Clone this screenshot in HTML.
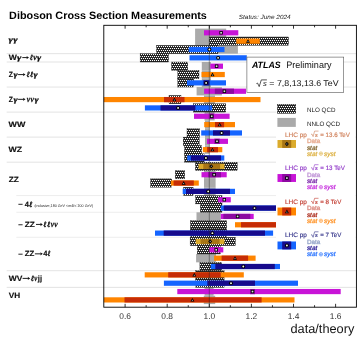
<!DOCTYPE html>
<html><head><meta charset="utf-8"><title>Diboson Cross Section Measurements</title>
<style>html,body{margin:0;padding:0;background:#fff;}svg{display:block;text-rendering:geometricPrecision;will-change:transform;}text{font-family:"Liberation Sans",sans-serif;}</style>
</head><body>
<svg width="357" height="338" viewBox="0 0 357 338">
<defs>
<pattern id="hx" patternUnits="userSpaceOnUse" x="0" y="0" width="2" height="4"><rect width="2" height="4" fill="#000"/><g fill="#fff"><circle cx="0.5" cy="0.5" r="0.66"/><circle cx="2.5" cy="0.5" r="0.66"/><circle cx="-1.5" cy="0.5" r="0.66"/><circle cx="1.5" cy="2.5" r="0.66"/><circle cx="-0.5" cy="2.5" r="0.66"/><circle cx="3.5" cy="2.5" r="0.66"/><circle cx="0.5" cy="4.5" r="0.66"/><circle cx="0.5" cy="-3.5" r="0.66"/></g></pattern>
<clipPath id="cp"><rect x="103.8" y="25.3" width="252.59999999999997" height="281.9"/></clipPath>
</defs>
<rect width="357" height="338" fill="#fff"/>
<g>
<line x1="6.7" x2="356.4" y1="53.67" y2="53.67" stroke="#dcdcdc" stroke-width="0.8"/>
<line x1="6.7" x2="356.4" y1="62.01" y2="62.01" stroke="#dcdcdc" stroke-width="0.8"/>
<line x1="6.7" x2="356.4" y1="87.06" y2="87.06" stroke="#dcdcdc" stroke-width="0.8"/>
<line x1="6.7" x2="356.4" y1="112.10" y2="112.10" stroke="#dcdcdc" stroke-width="0.8"/>
<line x1="6.7" x2="356.4" y1="137.14" y2="137.14" stroke="#dcdcdc" stroke-width="0.8"/>
<line x1="6.7" x2="356.4" y1="162.18" y2="162.18" stroke="#dcdcdc" stroke-width="0.8"/>
<line x1="6.7" x2="356.4" y1="270.69" y2="270.69" stroke="#dcdcdc" stroke-width="0.8"/>
<line x1="6.7" x2="356.4" y1="287.38" y2="287.38" stroke="#dcdcdc" stroke-width="0.8"/>
<line x1="16.3" x2="356.4" y1="195.57" y2="195.57" stroke="#e8e8e8" stroke-width="0.8"/>
<line x1="16.3" x2="356.4" y1="212.26" y2="212.26" stroke="#e8e8e8" stroke-width="0.8"/>
<line x1="16.3" x2="356.4" y1="237.30" y2="237.30" stroke="#e8e8e8" stroke-width="0.8"/>
<g clip-path="url(#cp)">
<rect x="195.1" y="28.63" width="31.10" height="8.35" fill="#aaaaaa"/>
<rect x="195.1" y="36.97" width="31.10" height="8.35" fill="#aaaaaa"/>
<rect x="197.1" y="45.32" width="40.80" height="8.35" fill="#aaaaaa"/>
<rect x="201.8" y="62.01" width="9.20" height="8.35" fill="#aaaaaa"/>
<rect x="201.8" y="70.36" width="9.20" height="8.35" fill="#aaaaaa"/>
<rect x="201.8" y="78.71" width="9.20" height="8.35" fill="#aaaaaa"/>
<rect x="196.6" y="87.06" width="25.30" height="8.35" fill="#aaaaaa"/>
<rect x="204" y="95.40" width="11.00" height="8.35" fill="#aaaaaa"/>
<rect x="204.5" y="112.10" width="10.10" height="8.35" fill="#aaaaaa"/>
<rect x="205" y="120.44" width="4.60" height="8.35" fill="#aaaaaa"/>
<rect x="205" y="128.79" width="4.60" height="8.35" fill="#aaaaaa"/>
<rect x="205" y="137.14" width="4.60" height="8.35" fill="#aaaaaa"/>
<rect x="205" y="145.48" width="4.60" height="8.35" fill="#aaaaaa"/>
<rect x="204" y="170.53" width="11.60" height="8.35" fill="#aaaaaa"/>
<rect x="204" y="178.87" width="11.60" height="8.35" fill="#aaaaaa"/>
<rect x="204" y="187.22" width="11.60" height="8.35" fill="#aaaaaa"/>
<rect x="196.5" y="212.26" width="24.30" height="8.35" fill="#aaaaaa"/>
<rect x="196.1" y="254.00" width="19.90" height="8.35" fill="#aaaaaa"/>
<rect x="204.6" y="287.38" width="9.00" height="8.35" fill="#aaaaaa"/>
<rect x="203.8" y="295.73" width="11.40" height="8.35" fill="#aaaaaa"/>
<rect x="209.4" y="36.97" width="79.10" height="8.35" fill="url(#hx)" stroke="#000" stroke-width="0.3"/>
<rect x="156.5" y="45.32" width="61.50" height="8.35" fill="url(#hx)" stroke="#000" stroke-width="0.3"/>
<rect x="140.1" y="53.67" width="28.40" height="8.35" fill="url(#hx)" stroke="#000" stroke-width="0.3"/>
<rect x="171.5" y="62.01" width="16.20" height="8.35" fill="url(#hx)" stroke="#000" stroke-width="0.3"/>
<rect x="177.8" y="70.36" width="21.20" height="8.35" fill="url(#hx)" stroke="#000" stroke-width="0.3"/>
<rect x="177.8" y="78.71" width="15.90" height="8.35" fill="url(#hx)" stroke="#000" stroke-width="0.3"/>
<rect x="169" y="95.40" width="12.00" height="8.35" fill="url(#hx)" stroke="#000" stroke-width="0.3"/>
<rect x="193.4" y="103.75" width="32.40" height="8.35" fill="url(#hx)" stroke="#000" stroke-width="0.3"/>
<rect x="187.0" y="128.79" width="12.60" height="8.35" fill="url(#hx)" stroke="#000" stroke-width="0.3"/>
<rect x="183.2" y="137.14" width="16.10" height="8.35" fill="url(#hx)" stroke="#000" stroke-width="0.3"/>
<rect x="184.5" y="145.48" width="17.10" height="8.35" fill="url(#hx)" stroke="#000" stroke-width="0.3"/>
<rect x="184.5" y="153.83" width="19.60" height="8.35" fill="url(#hx)" stroke="#000" stroke-width="0.3"/>
<rect x="195.4" y="162.18" width="41.80" height="8.35" fill="url(#hx)" stroke="#000" stroke-width="0.3"/>
<rect x="175.3" y="170.53" width="9.40" height="8.35" fill="url(#hx)" stroke="#000" stroke-width="0.3"/>
<rect x="150.5" y="178.87" width="21.30" height="8.35" fill="url(#hx)" stroke="#000" stroke-width="0.3"/>
<rect x="183.7" y="187.22" width="9.40" height="8.35" fill="url(#hx)" stroke="#000" stroke-width="0.3"/>
<rect x="195.6" y="195.57" width="26.40" height="8.35" fill="url(#hx)" stroke="#000" stroke-width="0.3"/>
<rect x="200.3" y="203.91" width="21.70" height="8.35" fill="url(#hx)" stroke="#000" stroke-width="0.3"/>
<rect x="190.4" y="220.61" width="36.20" height="8.35" fill="url(#hx)" stroke="#000" stroke-width="0.3"/>
<rect x="190.4" y="228.95" width="36.20" height="8.35" fill="url(#hx)" stroke="#000" stroke-width="0.3"/>
<rect x="190.1" y="237.30" width="45.30" height="8.35" fill="url(#hx)" stroke="#000" stroke-width="0.3"/>
<rect x="197.3" y="245.65" width="23.00" height="8.35" fill="url(#hx)" stroke="#000" stroke-width="0.3"/>
<rect x="199.9" y="262.34" width="21.70" height="8.35" fill="url(#hx)" stroke="#000" stroke-width="0.3"/>
<rect x="195.8" y="270.69" width="28.30" height="8.35" fill="url(#hx)" stroke="#000" stroke-width="0.3"/>
<rect x="195.8" y="279.04" width="28.30" height="8.35" fill="url(#hx)" stroke="#000" stroke-width="0.3"/>
<rect x="204" y="30.20" width="34.30" height="5.2" fill="#c814d7"/>
<rect x="236.3" y="38.55" width="23.50" height="5.2" fill="#ff8500"/>
<rect x="188.7" y="46.89" width="35.80" height="5.2" fill="#1464ff"/>
<rect x="189.5" y="55.24" width="57.30" height="5.2" fill="#1464ff"/>
<rect x="210.3" y="63.59" width="12.70" height="5.2" fill="#c814d7"/>
<rect x="201.5" y="71.94" width="23.30" height="5.2" fill="#ff8500"/>
<rect x="187" y="80.28" width="39.00" height="5.2" fill="#1464ff"/>
<rect x="203.4" y="80.28" width="5.80" height="5.2" fill="#160a8c"/>
<rect x="204.1" y="88.63" width="41.90" height="5.2" fill="#c814d7"/>
<rect x="214.8" y="88.63" width="19.20" height="5.2" fill="#8c0aa0"/>
<rect x="95" y="96.98" width="165.50" height="5.2" fill="#ff8500"/>
<rect x="164" y="96.98" width="20.50" height="5.2" fill="#c62c06"/>
<rect x="144.9" y="105.32" width="67.30" height="5.2" fill="#1464ff"/>
<rect x="160.5" y="105.32" width="34.90" height="5.2" fill="#160a8c"/>
<rect x="194" y="113.67" width="35.60" height="5.2" fill="#c814d7"/>
<rect x="209.5" y="113.67" width="4.50" height="5.2" fill="#8c0aa0"/>
<rect x="204.2" y="122.02" width="30.80" height="5.2" fill="#ff8500"/>
<rect x="215" y="122.02" width="9.10" height="5.2" fill="#c62c06"/>
<rect x="201.2" y="130.36" width="40.80" height="5.2" fill="#1464ff"/>
<rect x="213" y="130.36" width="17.00" height="5.2" fill="#160a8c"/>
<rect x="207" y="138.71" width="21.00" height="5.2" fill="#c814d7"/>
<rect x="214.3" y="138.71" width="5.50" height="5.2" fill="#8c0aa0"/>
<rect x="202.9" y="147.06" width="19.40" height="5.2" fill="#ff8500"/>
<rect x="207.1" y="147.06" width="10.90" height="5.2" fill="#c62c06"/>
<rect x="187.2" y="155.41" width="37.10" height="5.2" fill="#1464ff"/>
<rect x="190.8" y="155.41" width="30.20" height="5.2" fill="#160a8c"/>
<rect x="198.5" y="163.75" width="26.00" height="5.2" fill="#dbab2c"/>
<rect x="203.3" y="163.75" width="16.80" height="5.2" fill="#a87616"/>
<rect x="201.5" y="172.10" width="25.20" height="5.2" fill="#c814d7"/>
<rect x="208.3" y="172.10" width="12.70" height="5.2" fill="#8c0aa0"/>
<rect x="170.9" y="180.45" width="27.90" height="5.2" fill="#ff8500"/>
<rect x="173.6" y="180.45" width="20.20" height="5.2" fill="#c62c06"/>
<rect x="182.7" y="188.79" width="52.30" height="5.2" fill="#1464ff"/>
<rect x="186" y="188.79" width="44.00" height="5.2" fill="#160a8c"/>
<rect x="218.1" y="197.14" width="12.70" height="5.2" fill="#c814d7"/>
<rect x="220.8" y="205.49" width="79.20" height="5.2" fill="#1464ff"/>
<rect x="223.7" y="205.49" width="76.30" height="5.2" fill="#160a8c"/>
<rect x="220.8" y="213.83" width="32.90" height="5.2" fill="#c814d7"/>
<rect x="223.4" y="213.83" width="26.90" height="5.2" fill="#8c0aa0"/>
<rect x="235" y="222.18" width="65.00" height="5.2" fill="#ff8500"/>
<rect x="241" y="222.18" width="59.00" height="5.2" fill="#c62c06"/>
<rect x="155" y="230.53" width="118.10" height="5.2" fill="#1464ff"/>
<rect x="163.7" y="230.53" width="101.30" height="5.2" fill="#160a8c"/>
<rect x="195.7" y="238.87" width="28.70" height="5.2" fill="#dbab2c"/>
<rect x="200.5" y="238.87" width="19.10" height="5.2" fill="#a87616"/>
<rect x="209.1" y="247.22" width="14.20" height="5.2" fill="#c814d7"/>
<rect x="214.1" y="255.57" width="41.50" height="5.2" fill="#ff8500"/>
<rect x="221.6" y="255.57" width="26.50" height="5.2" fill="#c62c06"/>
<rect x="210.8" y="263.92" width="69.20" height="5.2" fill="#1464ff"/>
<rect x="215.3" y="263.92" width="59.50" height="5.2" fill="#160a8c"/>
<rect x="144.7" y="272.26" width="99.10" height="5.2" fill="#ff8500"/>
<rect x="168.2" y="272.26" width="52.50" height="5.2" fill="#c62c06"/>
<rect x="163.9" y="280.61" width="134.10" height="5.2" fill="#1464ff"/>
<rect x="207.3" y="280.61" width="47.70" height="5.2" fill="#160a8c"/>
<rect x="177.3" y="288.96" width="163.40" height="5.2" fill="#c814d7"/>
<rect x="250" y="288.96" width="5.00" height="5.2" fill="#8c0aa0"/>
<rect x="95" y="297.30" width="199.50" height="5.2" fill="#ff8500"/>
<rect x="124.5" y="297.30" width="137.10" height="5.2" fill="#c62c06"/>
<line x1="209.3" x2="209.3" y1="25.3" y2="307.2" stroke="#222" stroke-width="0.7" opacity="0.62"/>
<rect x="219.40" y="31.10" width="3.4" height="3.4" fill="#000"/><rect x="220.25" y="31.95" width="1.7" height="1.7" fill="#d8d8d8"/>
<path d="M246.00,42.75 L250.00,42.75 L248.00,39.15 Z" fill="#000"/><path d="M247.30,42.10 L248.70,42.10 L248.00,40.80 Z" fill="#c8c8c8"/>
<circle cx="209.40" cy="49.49" r="1.95" fill="#000"/><circle cx="209.40" cy="49.49" r="0.95" fill="#f4f4f4"/>
<circle cx="218.10" cy="57.84" r="1.95" fill="#000"/><circle cx="218.10" cy="57.84" r="0.95" fill="#f4f4f4"/>
<rect x="214.90" y="64.49" width="3.4" height="3.4" fill="#000"/><rect x="215.75" y="65.34" width="1.7" height="1.7" fill="#d8d8d8"/>
<path d="M210.50,76.13 L214.50,76.13 L212.50,72.53 Z" fill="#000"/><path d="M211.80,75.48 L213.20,75.48 L212.50,74.19 Z" fill="#c8c8c8"/>
<circle cx="206.10" cy="82.88" r="1.95" fill="#000"/><circle cx="206.10" cy="82.88" r="0.95" fill="#f4f4f4"/>
<rect x="222.70" y="89.53" width="3.4" height="3.4" fill="#000"/><rect x="223.55" y="90.38" width="1.7" height="1.7" fill="#d8d8d8"/>
<path d="M172.40,101.18 L176.40,101.18 L174.40,97.58 Z" fill="#000"/><path d="M173.70,100.53 L175.10,100.53 L174.40,99.23 Z" fill="#c8c8c8"/>
<circle cx="178.10" cy="107.92" r="1.95" fill="#000"/><circle cx="178.10" cy="107.92" r="0.95" fill="#f4f4f4"/>
<rect x="210.00" y="114.57" width="3.4" height="3.4" fill="#000"/><rect x="210.85" y="115.42" width="1.7" height="1.7" fill="#d8d8d8"/>
<path d="M217.70,126.22 L221.70,126.22 L219.70,122.62 Z" fill="#000"/><path d="M219.00,125.57 L220.40,125.57 L219.70,124.27 Z" fill="#c8c8c8"/>
<circle cx="221.60" cy="132.96" r="1.95" fill="#000"/><circle cx="221.60" cy="132.96" r="0.95" fill="#f4f4f4"/>
<rect x="215.30" y="139.61" width="3.4" height="3.4" fill="#000"/><rect x="216.15" y="140.46" width="1.7" height="1.7" fill="#d8d8d8"/>
<path d="M210.40,151.26 L214.40,151.26 L212.40,147.66 Z" fill="#000"/><path d="M211.70,150.61 L213.10,150.61 L212.40,149.31 Z" fill="#c8c8c8"/>
<circle cx="205.90" cy="158.00" r="1.95" fill="#000"/><circle cx="205.90" cy="158.00" r="0.95" fill="#f4f4f4"/>
<path d="M209.40,166.35 L211.30,164.15 L213.20,166.35 L211.30,168.55 Z" fill="#000"/><path d="M210.70,166.35 L211.30,165.60 L211.90,166.35 L211.30,167.10 Z" fill="#c8c8c8"/>
<rect x="212.40" y="173.00" width="3.4" height="3.4" fill="#000"/><rect x="213.25" y="173.85" width="1.7" height="1.7" fill="#d8d8d8"/>
<path d="M181.70,184.65 L185.70,184.65 L183.70,181.05 Z" fill="#000"/><path d="M183.00,184.00 L184.40,184.00 L183.70,182.70 Z" fill="#c8c8c8"/>
<circle cx="208.20" cy="191.39" r="1.95" fill="#000"/><circle cx="208.20" cy="191.39" r="0.95" fill="#f4f4f4"/>
<rect x="222.60" y="198.04" width="3.4" height="3.4" fill="#000"/><rect x="223.45" y="198.89" width="1.7" height="1.7" fill="#d8d8d8"/>
<circle cx="254.50" cy="208.09" r="1.95" fill="#000"/><circle cx="254.50" cy="208.09" r="0.95" fill="#f4f4f4"/>
<rect x="235.90" y="214.73" width="3.4" height="3.4" fill="#000"/><rect x="236.75" y="215.58" width="1.7" height="1.7" fill="#d8d8d8"/>
<circle cx="212.40" cy="233.13" r="1.95" fill="#000"/><circle cx="212.40" cy="233.13" r="0.95" fill="#f4f4f4"/>
<path d="M208.30,241.47 L210.20,239.27 L212.10,241.47 L210.20,243.67 Z" fill="#000"/><path d="M209.60,241.47 L210.20,240.72 L210.80,241.47 L210.20,242.22 Z" fill="#c8c8c8"/>
<rect x="214.50" y="248.12" width="3.4" height="3.4" fill="#000"/><rect x="215.35" y="248.97" width="1.7" height="1.7" fill="#d8d8d8"/>
<path d="M233.00,259.77 L237.00,259.77 L235.00,256.17 Z" fill="#000"/><path d="M234.30,259.12 L235.70,259.12 L235.00,257.82 Z" fill="#c8c8c8"/>
<circle cx="243.30" cy="266.52" r="1.95" fill="#000"/><circle cx="243.30" cy="266.52" r="0.95" fill="#f4f4f4"/>
<path d="M192.30,276.46 L196.30,276.46 L194.30,272.86 Z" fill="#000"/><path d="M193.60,275.81 L195.00,275.81 L194.30,274.51 Z" fill="#c8c8c8"/>
<circle cx="231.00" cy="283.21" r="1.95" fill="#000"/><circle cx="231.00" cy="283.21" r="0.95" fill="#f4f4f4"/>
<rect x="250.80" y="289.86" width="3.4" height="3.4" fill="#000"/><rect x="251.65" y="290.71" width="1.7" height="1.7" fill="#d8d8d8"/>
<path d="M190.40,301.50 L194.40,301.50 L192.40,297.90 Z" fill="#000"/><path d="M191.70,300.85 L193.10,300.85 L192.40,299.55 Z" fill="#c8c8c8"/>
</g>
<rect x="276" y="100" width="79.5" height="160" fill="#fff"/>
<rect x="103.8" y="25.3" width="252.60" height="281.90" fill="none" stroke="#000" stroke-width="0.9"/>
<line x1="125.10" x2="125.10" y1="307.2" y2="303.8" stroke="#000" stroke-width="0.8"/>
<line x1="125.10" x2="125.10" y1="25.3" y2="28.7" stroke="#000" stroke-width="0.8"/>
<line x1="146.15" x2="146.15" y1="307.2" y2="305.2" stroke="#000" stroke-width="0.8"/>
<line x1="146.15" x2="146.15" y1="25.3" y2="27.3" stroke="#000" stroke-width="0.8"/>
<line x1="167.20" x2="167.20" y1="307.2" y2="303.8" stroke="#000" stroke-width="0.8"/>
<line x1="167.20" x2="167.20" y1="25.3" y2="28.7" stroke="#000" stroke-width="0.8"/>
<line x1="188.25" x2="188.25" y1="307.2" y2="305.2" stroke="#000" stroke-width="0.8"/>
<line x1="188.25" x2="188.25" y1="25.3" y2="27.3" stroke="#000" stroke-width="0.8"/>
<line x1="209.30" x2="209.30" y1="307.2" y2="303.8" stroke="#000" stroke-width="0.8"/>
<line x1="209.30" x2="209.30" y1="25.3" y2="28.7" stroke="#000" stroke-width="0.8"/>
<line x1="230.35" x2="230.35" y1="307.2" y2="305.2" stroke="#000" stroke-width="0.8"/>
<line x1="230.35" x2="230.35" y1="25.3" y2="27.3" stroke="#000" stroke-width="0.8"/>
<line x1="251.40" x2="251.40" y1="307.2" y2="303.8" stroke="#000" stroke-width="0.8"/>
<line x1="251.40" x2="251.40" y1="25.3" y2="28.7" stroke="#000" stroke-width="0.8"/>
<line x1="272.45" x2="272.45" y1="307.2" y2="305.2" stroke="#000" stroke-width="0.8"/>
<line x1="272.45" x2="272.45" y1="25.3" y2="27.3" stroke="#000" stroke-width="0.8"/>
<line x1="293.50" x2="293.50" y1="307.2" y2="303.8" stroke="#000" stroke-width="0.8"/>
<line x1="293.50" x2="293.50" y1="25.3" y2="28.7" stroke="#000" stroke-width="0.8"/>
<line x1="314.55" x2="314.55" y1="307.2" y2="305.2" stroke="#000" stroke-width="0.8"/>
<line x1="314.55" x2="314.55" y1="25.3" y2="27.3" stroke="#000" stroke-width="0.8"/>
<line x1="335.60" x2="335.60" y1="307.2" y2="303.8" stroke="#000" stroke-width="0.8"/>
<line x1="335.60" x2="335.60" y1="25.3" y2="28.7" stroke="#000" stroke-width="0.8"/>
<text x="125.10" y="319.0" font-size="8.4" text-anchor="middle" fill="#333">0.6</text>
<text x="167.20" y="319.0" font-size="8.4" text-anchor="middle" fill="#333">0.8</text>
<text x="209.30" y="319.0" font-size="8.4" text-anchor="middle" fill="#333">1.0</text>
<text x="251.40" y="319.0" font-size="8.4" text-anchor="middle" fill="#333">1.2</text>
<text x="293.50" y="319.0" font-size="8.4" text-anchor="middle" fill="#333">1.4</text>
<text x="335.60" y="319.0" font-size="8.4" text-anchor="middle" fill="#333">1.6</text>
<text x="354.3" y="332.9" font-size="12.75" text-anchor="end" fill="#111">data/theory</text>
<text x="9.1" y="19.2" font-size="10.7" font-weight="bold" fill="#000" textLength="197.8" lengthAdjust="spacingAndGlyphs">Diboson Cross Section Measurements</text>
<text x="238.8" y="19.0" font-size="6.1" font-style="italic" fill="#222" textLength="51.8" lengthAdjust="spacingAndGlyphs">Status: June 2024</text>
<text x="8.4" y="42.35" font-size="7.6" font-weight="bold" font-style="italic" fill="#111" stroke="#111" stroke-width="0.25" style="font-family:'Liberation Serif',serif" textLength="4.40" lengthAdjust="spacingAndGlyphs">γ</text>
<text x="13.2" y="42.35" font-size="7.6" font-weight="bold" font-style="italic" fill="#111" stroke="#111" stroke-width="0.25" style="font-family:'Liberation Serif',serif" textLength="4.40" lengthAdjust="spacingAndGlyphs">γ</text>
<text x="8.7" y="60.14" font-size="7.5" font-weight="bold" fill="#111" stroke="#111" stroke-width="0.15" textLength="8.10" lengthAdjust="spacingAndGlyphs">W</text>
<text x="17.1" y="60.14" font-size="7.6" font-weight="bold" font-style="italic" fill="#111" stroke="#111" stroke-width="0.25" style="font-family:'Liberation Serif',serif" textLength="4.40" lengthAdjust="spacingAndGlyphs">γ</text>
<path d="M22.3,57.59 H27.80" stroke="#111" stroke-width="0.95" fill="none"/><path d="M29.00,57.59 L26.40,55.89 L27.10,57.59 L26.40,59.29 Z" fill="#111"/>
<text x="29.9" y="60.14" font-size="8.0" font-weight="bold" font-style="italic" fill="#111" stroke="#111" stroke-width="0.4" style="font-family:'Liberation Serif',serif" textLength="2.80" lengthAdjust="spacingAndGlyphs">ℓ</text>
<text x="33.2" y="60.14" font-size="8.8" font-weight="bold" font-style="italic" fill="#111" stroke="#111" stroke-width="0.25" style="font-family:'Liberation Serif',serif" textLength="3.50" lengthAdjust="spacingAndGlyphs">ν</text>
<text x="36.9" y="60.14" font-size="7.6" font-weight="bold" font-style="italic" fill="#111" stroke="#111" stroke-width="0.25" style="font-family:'Liberation Serif',serif" textLength="4.20" lengthAdjust="spacingAndGlyphs">γ</text>
<text x="8.7" y="77.14" font-size="7.5" font-weight="bold" fill="#111" stroke="#111" stroke-width="0.15" textLength="4.20" lengthAdjust="spacingAndGlyphs">Z</text>
<text x="13.4" y="77.14" font-size="7.6" font-weight="bold" font-style="italic" fill="#111" stroke="#111" stroke-width="0.25" style="font-family:'Liberation Serif',serif" textLength="4.20" lengthAdjust="spacingAndGlyphs">γ</text>
<path d="M18.1,74.59 H24.30" stroke="#111" stroke-width="0.95" fill="none"/><path d="M25.50,74.59 L22.90,72.89 L23.60,74.59 L22.90,76.29 Z" fill="#111"/>
<text x="26.8" y="77.14" font-size="8.0" font-weight="bold" font-style="italic" fill="#111" stroke="#111" stroke-width="0.4" style="font-family:'Liberation Serif',serif" textLength="2.90" lengthAdjust="spacingAndGlyphs">ℓ</text>
<text x="30.2" y="77.14" font-size="8.0" font-weight="bold" font-style="italic" fill="#111" stroke="#111" stroke-width="0.4" style="font-family:'Liberation Serif',serif" textLength="2.90" lengthAdjust="spacingAndGlyphs">ℓ</text>
<text x="33.6" y="77.14" font-size="7.6" font-weight="bold" font-style="italic" fill="#111" stroke="#111" stroke-width="0.25" style="font-family:'Liberation Serif',serif" textLength="4.20" lengthAdjust="spacingAndGlyphs">γ</text>
<text x="8.7" y="101.88" font-size="7.5" font-weight="bold" fill="#111" stroke="#111" stroke-width="0.15" textLength="4.20" lengthAdjust="spacingAndGlyphs">Z</text>
<text x="13.4" y="101.88" font-size="7.6" font-weight="bold" font-style="italic" fill="#111" stroke="#111" stroke-width="0.25" style="font-family:'Liberation Serif',serif" textLength="4.20" lengthAdjust="spacingAndGlyphs">γ</text>
<path d="M18.1,99.33 H24.30" stroke="#111" stroke-width="0.95" fill="none"/><path d="M25.50,99.33 L22.90,97.63 L23.60,99.33 L22.90,101.03 Z" fill="#111"/>
<text x="26.8" y="101.88" font-size="8.8" font-weight="bold" font-style="italic" fill="#111" stroke="#111" stroke-width="0.25" style="font-family:'Liberation Serif',serif" textLength="3.30" lengthAdjust="spacingAndGlyphs">ν</text>
<text x="30.5" y="101.88" font-size="8.8" font-weight="bold" font-style="italic" fill="#111" stroke="#111" stroke-width="0.25" style="font-family:'Liberation Serif',serif" textLength="3.30" lengthAdjust="spacingAndGlyphs">ν</text>
<text x="34.4" y="101.88" font-size="7.6" font-weight="bold" font-style="italic" fill="#111" stroke="#111" stroke-width="0.25" style="font-family:'Liberation Serif',serif" textLength="4.20" lengthAdjust="spacingAndGlyphs">γ</text>
<text x="8.6" y="127.42" font-size="7.5" font-weight="bold" fill="#111" stroke="#111" stroke-width="0.15" textLength="16.80" lengthAdjust="spacingAndGlyphs">WW</text>
<text x="8.6" y="152.36" font-size="7.5" font-weight="bold" fill="#111" stroke="#111" stroke-width="0.15" textLength="13.60" lengthAdjust="spacingAndGlyphs">WZ</text>
<text x="8.8" y="181.57" font-size="7.5" font-weight="bold" fill="#111" stroke="#111" stroke-width="0.15" textLength="10.10" lengthAdjust="spacingAndGlyphs">ZZ</text>
<path d="M18.4,204.31 H22.6" stroke="#111" stroke-width="0.9" fill="none"/>
<text x="24.8" y="206.51" font-size="7.5" font-weight="bold" fill="#111" stroke="#111" stroke-width="0.15" textLength="4.20" lengthAdjust="spacingAndGlyphs">4</text>
<text x="29.3" y="206.51" font-size="8.0" font-weight="bold" font-style="italic" fill="#111" stroke="#111" stroke-width="0.4" style="font-family:'Liberation Serif',serif" textLength="3.10" lengthAdjust="spacingAndGlyphs">ℓ</text>
<text x="34.4" y="206.81" font-size="3.9" fill="#222" textLength="58.8" lengthAdjust="spacingAndGlyphs">(inclusive,180 GeV &lt;m4ℓ&lt; 200 GeV)</text>
<path d="M18.4,224.78 H22.6" stroke="#111" stroke-width="0.9" fill="none"/>
<text x="24.8" y="226.98" font-size="7.5" font-weight="bold" fill="#111" stroke="#111" stroke-width="0.15" textLength="10.10" lengthAdjust="spacingAndGlyphs">ZZ</text>
<path d="M36,224.43 H41.60" stroke="#111" stroke-width="0.95" fill="none"/><path d="M42.80,224.43 L40.20,222.73 L40.90,224.43 L40.20,226.13 Z" fill="#111"/>
<text x="43.6" y="226.98" font-size="8.0" font-weight="bold" font-style="italic" fill="#111" stroke="#111" stroke-width="0.4" style="font-family:'Liberation Serif',serif" textLength="2.90" lengthAdjust="spacingAndGlyphs">ℓ</text>
<text x="47.3" y="226.98" font-size="8.0" font-weight="bold" font-style="italic" fill="#111" stroke="#111" stroke-width="0.4" style="font-family:'Liberation Serif',serif" textLength="3.00" lengthAdjust="spacingAndGlyphs">ℓ</text>
<text x="50.8" y="226.98" font-size="8.8" font-weight="bold" font-style="italic" fill="#111" stroke="#111" stroke-width="0.25" style="font-family:'Liberation Serif',serif" textLength="3.20" lengthAdjust="spacingAndGlyphs">ν</text>
<text x="54.2" y="226.98" font-size="8.8" font-weight="bold" font-style="italic" fill="#111" stroke="#111" stroke-width="0.25" style="font-family:'Liberation Serif',serif" textLength="3.40" lengthAdjust="spacingAndGlyphs">ν</text>
<path d="M18.4,254.20 H22.6" stroke="#111" stroke-width="0.9" fill="none"/>
<text x="24.8" y="256.40" font-size="7.5" font-weight="bold" fill="#111" stroke="#111" stroke-width="0.15" textLength="9.60" lengthAdjust="spacingAndGlyphs">ZZ</text>
<path d="M34.9,253.85 H41.60" stroke="#111" stroke-width="0.95" fill="none"/><path d="M42.80,253.85 L40.20,252.15 L40.90,253.85 L40.20,255.55 Z" fill="#111"/>
<text x="43.3" y="256.40" font-size="7.5" font-weight="bold" fill="#111" stroke="#111" stroke-width="0.15" textLength="4.20" lengthAdjust="spacingAndGlyphs">4</text>
<text x="47.8" y="256.40" font-size="8.0" font-weight="bold" font-style="italic" fill="#111" stroke="#111" stroke-width="0.4" style="font-family:'Liberation Serif',serif" textLength="2.60" lengthAdjust="spacingAndGlyphs">ℓ</text>
<text x="8.7" y="280.94" font-size="7.5" font-weight="bold" fill="#111" stroke="#111" stroke-width="0.15" textLength="13.60" lengthAdjust="spacingAndGlyphs">WV</text>
<path d="M22.6,278.39 H29.00" stroke="#111" stroke-width="0.95" fill="none"/><path d="M30.20,278.39 L27.60,276.69 L28.30,278.39 L27.60,280.09 Z" fill="#111"/>
<text x="31" y="280.94" font-size="8.0" font-weight="bold" font-style="italic" fill="#111" stroke="#111" stroke-width="0.4" style="font-family:'Liberation Serif',serif" textLength="2.90" lengthAdjust="spacingAndGlyphs">ℓ</text>
<text x="34.2" y="280.94" font-size="8.8" font-weight="bold" font-style="italic" fill="#111" stroke="#111" stroke-width="0.25" style="font-family:'Liberation Serif',serif" textLength="3.00" lengthAdjust="spacingAndGlyphs">ν</text>
<text x="37.8" y="280.94" font-size="7.5" font-weight="bold" fill="#111" stroke="#111" stroke-width="0.15" textLength="4.20" lengthAdjust="spacingAndGlyphs">jj</text>
<text x="8.8" y="298.43" font-size="7.5" font-weight="bold" fill="#111" stroke="#111" stroke-width="0.15" textLength="11.40" lengthAdjust="spacingAndGlyphs">VH</text>
<rect x="246.9" y="57.1" width="96.8" height="35.2" fill="#fff" stroke="#555" stroke-width="0.6"/>
<text x="251.9" y="68.35" font-size="9.2" font-weight="bold" font-style="italic" fill="#000" textLength="28.8" lengthAdjust="spacingAndGlyphs">ATLAS</text>
<text x="286.2" y="68.35" font-size="9.3" fill="#111" textLength="45.3" lengthAdjust="spacingAndGlyphs">Preliminary</text>
<path d="M256.4,83.6 l1.1,-0.6 l1.7,3.6 l2.1,-6.7 h5.6" fill="none" stroke="#111" stroke-width="0.7"/>
<text x="262.9" y="86.2" font-size="7.6" font-style="italic" fill="#111">s</text>
<text x="269.3" y="86.2" font-size="8.4" fill="#111" textLength="69.3" lengthAdjust="spacingAndGlyphs">= 7,8,13,13.6 TeV</text>
<rect x="277.4" y="104.3" width="18.4" height="9.1" fill="url(#hx)" stroke="#000" stroke-width="0.3"/>
<text x="306.9" y="112.4" font-size="6.3" fill="#222" textLength="28.6" lengthAdjust="spacingAndGlyphs">NLO QCD</text>
<rect x="277.4" y="117.9" width="18.4" height="9.0" fill="#aaaaaa"/>
<text x="306.9" y="125.9" font-size="6.3" fill="#222" textLength="33.2" lengthAdjust="spacingAndGlyphs">NNLO QCD</text>
<text x="285.0" y="136.50" font-size="6.3" fill="#cf7f58" stroke="#cf7f58" stroke-width="0.15" textLength="21.9" lengthAdjust="spacingAndGlyphs">LHC pp</text>
<path d="M311.0,134.50 l0.9,-0.5 l1.2,2.6 l1.5,-5.5 h3.9" fill="none" stroke="#cf7f58" stroke-width="0.6"/>
<text x="315.0" y="136.50" font-size="5.4" font-style="italic" fill="#cf7f58" stroke="#cf7f58" stroke-width="0.15">s</text>
<text x="320.3" y="136.50" font-size="6.3" fill="#cf7f58" stroke="#cf7f58" stroke-width="0.15" textLength="29.60" lengthAdjust="spacingAndGlyphs">= 13.6 TeV</text>
<rect x="277.5" y="140.00" width="18.5" height="7.9" fill="#dbab2c"/>
<rect x="282.2" y="140.00" width="9.0" height="7.9" fill="#a87616"/>
<path d="M285.00,144.05 L286.90,141.85 L288.80,144.05 L286.90,146.25 Z" fill="#000"/><path d="M286.30,144.05 L286.90,143.30 L287.50,144.05 L286.90,144.80 Z" fill="#c8c8c8"/>
<text x="306.9" y="143.20" font-size="6.3" fill="#e6a88c" stroke="#e6a88c" stroke-width="0.3" textLength="13.4" lengthAdjust="spacingAndGlyphs">Data</text>
<text x="306.9" y="149.70" font-size="6.4" font-style="italic" fill="#7a5a20" stroke="#7a5a20" stroke-width="0.2" textLength="10.4" lengthAdjust="spacingAndGlyphs">stat</text>
<text x="306.9" y="155.50" font-size="6.4" font-style="italic" fill="#dcb040" stroke="#dcb040" stroke-width="0.25" textLength="10.4" lengthAdjust="spacingAndGlyphs">stat</text>
<circle cx="320.9" cy="153.6" r="1.75" fill="none" stroke="#dcb040" stroke-width="0.5"/><path d="M319.15,153.6 H322.65 M320.9,151.85 V155.35" stroke="#dcb040" stroke-width="0.5"/>
<text x="324.0" y="155.50" font-size="6.4" font-style="italic" fill="#dcb040" stroke="#dcb040" stroke-width="0.25" textLength="11.5" lengthAdjust="spacingAndGlyphs">syst</text>
<text x="285.0" y="170.10" font-size="6.3" fill="#9038c8" stroke="#9038c8" stroke-width="0.15" textLength="21.9" lengthAdjust="spacingAndGlyphs">LHC pp</text>
<path d="M311.0,168.10 l0.9,-0.5 l1.2,2.6 l1.5,-5.5 h3.9" fill="none" stroke="#9038c8" stroke-width="0.6"/>
<text x="315.0" y="170.10" font-size="5.4" font-style="italic" fill="#9038c8" stroke="#9038c8" stroke-width="0.15">s</text>
<text x="320.3" y="170.10" font-size="6.3" fill="#9038c8" stroke="#9038c8" stroke-width="0.15" textLength="24.60" lengthAdjust="spacingAndGlyphs">= 13 TeV</text>
<rect x="277.5" y="174.05" width="18.5" height="7.9" fill="#c814d7"/>
<rect x="282.2" y="174.05" width="9.0" height="7.9" fill="#8c0aa0"/>
<rect x="285.20" y="176.40" width="3.4" height="3.4" fill="#000"/><rect x="286.05" y="177.25" width="1.7" height="1.7" fill="#d8d8d8"/>
<text x="306.9" y="176.80" font-size="6.3" fill="#bf92d6" stroke="#bf92d6" stroke-width="0.3" textLength="13.4" lengthAdjust="spacingAndGlyphs">Data</text>
<text x="306.9" y="183.30" font-size="6.4" font-style="italic" fill="#6c10a0" stroke="#6c10a0" stroke-width="0.2" textLength="10.4" lengthAdjust="spacingAndGlyphs">stat</text>
<text x="306.9" y="189.10" font-size="6.4" font-style="italic" fill="#c428dc" stroke="#c428dc" stroke-width="0.25" textLength="10.4" lengthAdjust="spacingAndGlyphs">stat</text>
<circle cx="320.9" cy="187.2" r="1.75" fill="none" stroke="#c428dc" stroke-width="0.5"/><path d="M319.15,187.2 H322.65 M320.9,185.45 V188.95" stroke="#c428dc" stroke-width="0.5"/>
<text x="324.0" y="189.10" font-size="6.4" font-style="italic" fill="#c428dc" stroke="#c428dc" stroke-width="0.25" textLength="11.5" lengthAdjust="spacingAndGlyphs">syst</text>
<text x="285.0" y="203.70" font-size="6.3" fill="#c23c30" stroke="#c23c30" stroke-width="0.15" textLength="21.9" lengthAdjust="spacingAndGlyphs">LHC pp</text>
<path d="M311.0,201.70 l0.9,-0.5 l1.2,2.6 l1.5,-5.5 h3.9" fill="none" stroke="#c23c30" stroke-width="0.6"/>
<text x="315.0" y="203.70" font-size="5.4" font-style="italic" fill="#c23c30" stroke="#c23c30" stroke-width="0.15">s</text>
<text x="320.3" y="203.70" font-size="6.3" fill="#c23c30" stroke="#c23c30" stroke-width="0.15" textLength="21.00" lengthAdjust="spacingAndGlyphs">= 8 TeV</text>
<rect x="277.5" y="207.55" width="18.5" height="7.9" fill="#ff8500"/>
<rect x="282.2" y="207.55" width="9.0" height="7.9" fill="#c62c06"/>
<path d="M284.90,213.20 L288.90,213.20 L286.90,209.60 Z" fill="#000"/><path d="M286.20,212.55 L287.60,212.55 L286.90,211.25 Z" fill="#c8c8c8"/>
<text x="306.9" y="210.40" font-size="6.3" fill="#dc8a80" stroke="#dc8a80" stroke-width="0.3" textLength="13.4" lengthAdjust="spacingAndGlyphs">Data</text>
<text x="306.9" y="216.90" font-size="6.4" font-style="italic" fill="#a41808" stroke="#a41808" stroke-width="0.2" textLength="10.4" lengthAdjust="spacingAndGlyphs">stat</text>
<text x="306.9" y="222.70" font-size="6.4" font-style="italic" fill="#ff9020" stroke="#ff9020" stroke-width="0.25" textLength="10.4" lengthAdjust="spacingAndGlyphs">stat</text>
<circle cx="320.9" cy="220.79999999999998" r="1.75" fill="none" stroke="#ff9020" stroke-width="0.5"/><path d="M319.15,220.79999999999998 H322.65 M320.9,219.04999999999998 V222.54999999999998" stroke="#ff9020" stroke-width="0.5"/>
<text x="324.0" y="222.70" font-size="6.4" font-style="italic" fill="#ff9020" stroke="#ff9020" stroke-width="0.25" textLength="11.5" lengthAdjust="spacingAndGlyphs">syst</text>
<text x="285.0" y="237.20" font-size="6.3" fill="#34348a" stroke="#34348a" stroke-width="0.15" textLength="21.9" lengthAdjust="spacingAndGlyphs">LHC pp</text>
<path d="M311.0,235.20 l0.9,-0.5 l1.2,2.6 l1.5,-5.5 h3.9" fill="none" stroke="#34348a" stroke-width="0.6"/>
<text x="315.0" y="237.20" font-size="5.4" font-style="italic" fill="#34348a" stroke="#34348a" stroke-width="0.15">s</text>
<text x="320.3" y="237.20" font-size="6.3" fill="#34348a" stroke="#34348a" stroke-width="0.15" textLength="21.00" lengthAdjust="spacingAndGlyphs">= 7 TeV</text>
<rect x="277.5" y="241.50" width="18.5" height="7.9" fill="#1464ff"/>
<rect x="282.2" y="241.50" width="9.0" height="7.9" fill="#160a8c"/>
<circle cx="286.90" cy="245.55" r="1.95" fill="#000"/><circle cx="286.90" cy="245.55" r="0.95" fill="#f4f4f4"/>
<text x="306.9" y="243.90" font-size="6.3" fill="#93a3c8" stroke="#93a3c8" stroke-width="0.3" textLength="13.4" lengthAdjust="spacingAndGlyphs">Data</text>
<text x="306.9" y="250.40" font-size="6.4" font-style="italic" fill="#1c0c90" stroke="#1c0c90" stroke-width="0.2" textLength="10.4" lengthAdjust="spacingAndGlyphs">stat</text>
<text x="306.9" y="256.20" font-size="6.4" font-style="italic" fill="#2470ff" stroke="#2470ff" stroke-width="0.25" textLength="10.4" lengthAdjust="spacingAndGlyphs">stat</text>
<circle cx="320.9" cy="254.29999999999998" r="1.75" fill="none" stroke="#2470ff" stroke-width="0.5"/><path d="M319.15,254.29999999999998 H322.65 M320.9,252.54999999999998 V256.04999999999995" stroke="#2470ff" stroke-width="0.5"/>
<text x="324.0" y="256.20" font-size="6.4" font-style="italic" fill="#2470ff" stroke="#2470ff" stroke-width="0.25" textLength="11.5" lengthAdjust="spacingAndGlyphs">syst</text>
</g>
</svg></body></html>
